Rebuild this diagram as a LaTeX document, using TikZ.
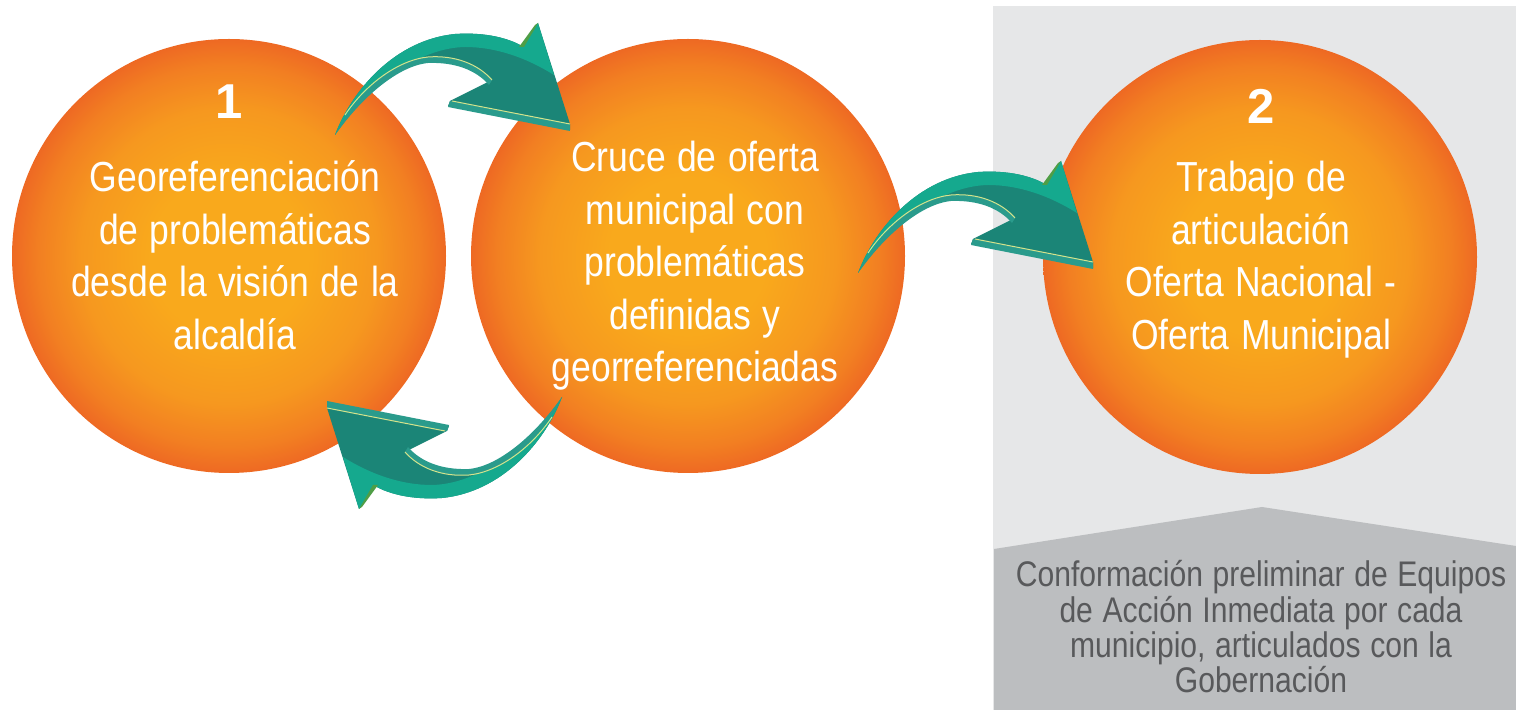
\documentclass[tikz,border=0pt]{standalone}
\usepackage{fontspec}
\setmainfont{Liberation Sans}
\newfontfamily\condfont[FakeStretch=0.845]{Liberation Sans}
\definecolor{orA}{HTML}{F9A91C}
\definecolor{orB}{HTML}{F6981F}
\definecolor{orD}{HTML}{F27F22}
\definecolor{orC}{HTML}{EE6923}
\definecolor{grayL}{HTML}{E6E7E8}
\definecolor{grayD}{HTML}{BCBEC0}
\definecolor{textG}{HTML}{58595B}
\definecolor{tealD}{HTML}{1B8577}
\definecolor{tealL}{HTML}{15A98E}
\definecolor{tealS}{HTML}{2A9B8C}
\definecolor{cyanL}{HTML}{7CD0DD}
\definecolor{greenS}{HTML}{4F9E46}
\definecolor{paleY}{HTML}{D4E38C}
\pgfdeclareradialshading{orbshade}{\pgfpoint{0bp}{0bp}}{color(0bp)=(orA); color(9bp)=(orA); color(17bp)=(orB); color(22bp)=(orD); color(25bp)=(orC); color(50bp)=(orC)}
\newcommand\tealarrow{%
  \fill[tealD] (335,135) .. controls (352,90) and (395,40) .. (455,34)
    .. controls (485,32) and (508,38) .. (522,46) -- (538,23) -- (570,124)
    -- (570,130) -- (448,106) -- (450,101) -- (492,80)
    .. controls (478,64) and (455,55) .. (428,57)
    .. controls (395,60) and (358,90) .. (335,135) -- cycle;
  \fill[tealL] (335,135) .. controls (352,90) and (395,40) .. (455,34)
    .. controls (485,32) and (508,38) .. (522,46) -- (538,23) -- (554,75)
    .. controls (525,57) and (495,47) .. (465,47)
    .. controls (420,48) and (372,82) .. (335,135) -- cycle;
  \shade[left color=tealS, middle color=cyanL, right color=tealS]
    (335,135) .. controls (358,90) and (395,60) .. (428,57)
    .. controls (455,55) and (478,64) .. (492,80) -- (489,85)
    .. controls (476,70) and (455,62) .. (428,63)
    .. controls (398,66) and (362,97) .. (335,135) -- cycle;
  \draw[paleY, line width=0.5pt] (345,115) .. controls (365,85) and (398,60) .. (428,57)
    .. controls (455,55) and (478,64) .. (492,80);
  \shade[left color=tealS, middle color=cyanL, right color=tealS]
    (450,101) -- (570,124) -- (570,131) -- (448,107) -- cycle;
  \draw[paleY, line width=0.5pt] (452,101) -- (570,124);
  \fill[greenS] (519,47) -- (535,25) -- (538,23) -- (524,47) -- cycle;
}
\begin{document}
\begin{tikzpicture}[x=0.5pt,y=-0.5pt,
  orb/.style={circle, inner sep=0pt, minimum size=217pt, shading=orbshade, draw=none},
  ctext/.style={text=white, font={\condfont\fontsize{21}{26.25}\selectfont\spaceskip=0.27em\relax}, align=flush center,
     text width=210pt, anchor=base, inner sep=0pt},
  num/.style={text=white, font={\bfseries\fontsize{24.5}{28}\selectfont}, inner sep=0pt},
  gtext/.style={text=textG, font={\condfont\fontsize{17.8}{17.65}\selectfont\lineskiplimit=-50pt\spaceskip=0.27em\relax},
     align=flush center, text width=260pt, anchor=base, inner sep=0pt}]
\useasboundingbox (0,0) rectangle (1516,710);
\fill[white] (0,0) rectangle (1516,710);
\fill[grayL] (993,6) rectangle (1516,710);
\fill[grayD] (994,549) -- (1262,507) -- (1516,546) -- (1516,710) -- (994,710) -- cycle;
\node[gtext] (g) at (1261,587) {Conformación preliminar de Equipos\\de Acción Inmediata por cada\\municipio, articulados con la\\Gobernación};
\node[orb] (c1) at (229,256) {};
\node[orb] (c2) at (688,256) {};
\node[orb] (c3) at (1260,257) {};
\tealarrow
\begin{scope}[shift={(523,138)}]
  \tealarrow
\end{scope}
\begin{scope}[rotate around={180:(448.5,266)}]
  \tealarrow
\end{scope}
\node[num] (n1) at (229,102) {1};
\node[num] (n2) at (1261,106) {2};
\node[ctext] (t1) at (235,192) {Georeferenciación\\de problemáticas\\desde la visión de la\\alcaldía};
\node[ctext] (t2) at (695,172) {Cruce de oferta\\municipal con\\problemáticas\\definidas y\\georreferenciadas};
\node[ctext] (t3) at (1261,192) {Trabajo de\\articulación\\Oferta Nacional -\\Oferta Municipal};
\end{tikzpicture}
\end{document}
